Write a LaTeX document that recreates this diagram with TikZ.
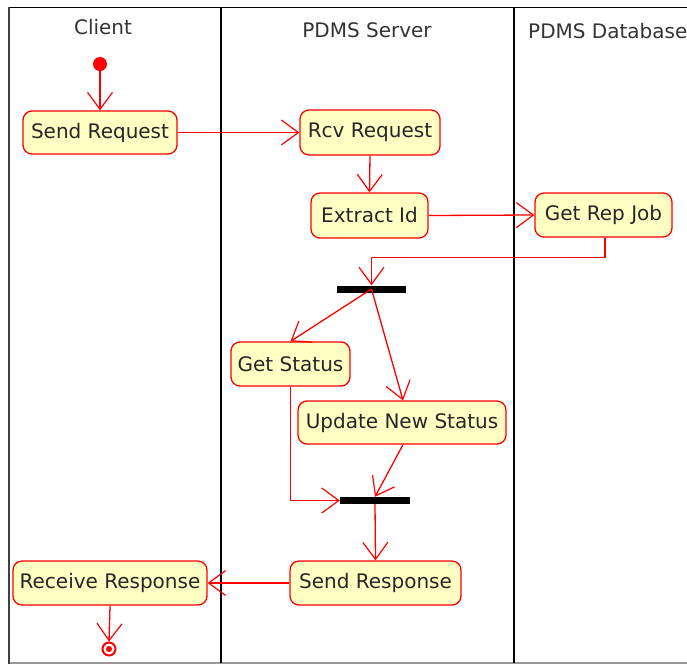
\documentclass[tikz,border=0pt]{standalone}
\usepackage{fontspec}
\setmainfont{DejaVu Sans}
\usetikzlibrary{arrows.meta}
\definecolor{actfill}{HTML}{FFFFC4}
\definecolor{umlred}{HTML}{FF0000}
\tikzset{
  act/.style={draw=umlred, line width=1.3pt, fill=actfill, rounded corners=9pt,
    inner sep=0pt, text=black!85, font=\fontsize{20}{24}\selectfont},
  bar/.style={fill=black, draw=none, inner sep=0pt},
  flow/.style={draw=umlred, line width=1.3pt,
    -{Straight Barb[length=17pt, width=25pt, line width=1.2pt]}},
  lane/.style={line width=1.4pt, draw=black},
  lanehead/.style={font=\fontsize{20}{24}\selectfont, text=black!80, inner sep=0pt}
}
\begin{document}
\begin{tikzpicture}[x=1pt, y=-1pt]
  \useasboundingbox (0,0) rectangle (687,665);
  % swimlane frame
  \draw[line width=1pt, black] (9,7.5) -- (687,7.5);
  \draw[line width=1.5pt, gray!80] (9,663) -- (687,663);
  \draw[line width=2pt, black!75] (9,7) -- (9,664);
  \draw[lane] (221,7) -- (221,663);
  \draw[lane] (514,7) -- (514,663);
  \node[lanehead] (hclient) at (103,27) {Client};
  \node[lanehead] (hserver) at (367,30) {PDMS Server};
  \node[lanehead, anchor=west] (hdb) at (528,31) {PDMS Database};

  % activities
  \node[circle, fill=umlred, inner sep=0pt, minimum size=14pt] (start) at (100,64) {};
  \node[act, minimum width=154pt, minimum height=43pt] (send) at (100,132.5) {Send Request};
  \node[act, minimum width=140pt, minimum height=45pt] (rcv) at (370,132.5) {Rcv Request};
  \node[act, minimum width=117pt, minimum height=45pt] (extract) at (369.5,215.5) {Extract Id};
  \node[act, minimum width=137pt, minimum height=44pt] (getrep) at (603.5,215) {Get Rep Job};
  \node[bar, minimum width=69pt, minimum height=7pt] (fork) at (371.5,289) {};
  \node[act, minimum width=119pt, minimum height=44pt] (status) at (290.5,364) {Get Status};
  \node[act, minimum width=208pt, minimum height=43pt] (update) at (402,422.5) {Update New Status};
  \node[bar, minimum width=70pt, minimum height=7pt] (join) at (375,500.5) {};
  \node[act, minimum width=171pt, minimum height=44pt] (sendresp) at (375.5,583) {Send Response};
  \node[act, minimum width=194pt, minimum height=44pt] (recvresp) at (110,583) {Receive Response};
  \node[circle, draw=umlred, line width=2pt, inner sep=0pt, minimum size=13pt] (final) at (109,649) {};
  \fill[umlred] (final.center) circle (3pt);

  % control flow
  \draw[flow] (start) -- (start |- send.north);
  \draw[flow] (send.east) -- (rcv.west);
  \draw[flow] (rcv.south) -- (extract.north);
  \draw[flow] (extract.east) -- (getrep.west);
  \draw[flow] ([xshift=1.5pt]getrep.south) -- ++(0,20) -| (fork.north);
  \draw[flow] (fork.center) -- (status.north);
  \draw[flow] (fork.center) -- ([xshift=1pt]update.north);
  \draw[flow] ([xshift=1pt]update.south) -- (join.north);
  \draw[flow] (status.south) |- (join.west);
  \draw[flow] (join.south) -- (sendresp.north);
  \draw[flow] (sendresp.west) -- (recvresp.east);
  \draw[flow] (recvresp.south) -- (final.north);
\end{tikzpicture}
\end{document}
